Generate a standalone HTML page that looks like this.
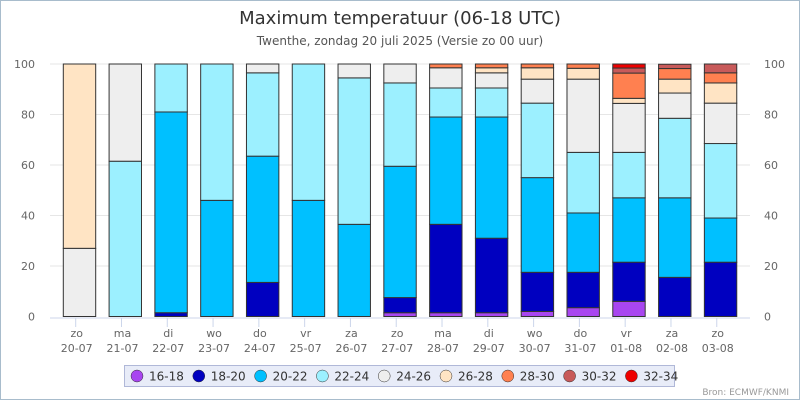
<!DOCTYPE html>
<html><head><meta charset="utf-8"><style>
body{margin:0;background:#fff;font-family:"DejaVu Sans","Liberation Sans",sans-serif}
#wrap{position:relative;width:800px;height:400px;overflow:hidden}
</style></head><body>
<div id="wrap">
<svg id="svg" width="800" height="400" xmlns="http://www.w3.org/2000/svg" font-family="DejaVu Sans, Liberation Sans, sans-serif">
<rect x="0.5" y="0.5" width="799" height="399" fill="#fff" stroke="#a8bccc"/>
<text x="400" y="24" text-anchor="middle" font-size="18" fill="#333">Maximum temperatuur (06-18 UTC)</text>
<text x="400" y="45" text-anchor="middle" font-size="12" fill="#555">Twenthe, zondag 20 juli 2025 (Versie zo 00 uur)</text>
<g id="grid"></g><g id="bars"></g><g id="axes"></g><g id="legend"></g>
<text x="789" y="395" text-anchor="end" font-size="9" fill="#999">Bron: ECMWF/KNMI</text>
</svg></div>
<script>
const days=["zo","ma","di","wo","do","vr","za","zo","ma","di","wo","do","vr","za","zo"];
const dates=["20-07","21-07","22-07","23-07","24-07","25-07","26-07","27-07","28-07","29-07","30-07","31-07","01-08","02-08","03-08"];
const seriesNames=["16-18","18-20","20-22","22-24","24-26","26-28","28-30","30-32","32-34"];
const seriesColors=["#a846f0","#0000c0","#00c0ff","#9cf0ff","#eeeeee","#ffe4c4","#ff8050","#c85a5a","#ee0000"];
const s1618=[0,0,0,0,0,0,0,1.5,1.5,1.5,2,3.5,6,0,0];
const s1820=[0,0,1.5,0,13.5,0,0,6,35,29.5,15.5,14,15.5,15.5,21.5];
const s2022=[0,0,79.5,46,50,46,36.5,52,42.5,48,37.5,23.5,25.5,31.5,17.5];
const s2224=[0,61.5,19,54,33,54,58,33,11.5,11.5,29.5,24,18,31.5,29.5];
const s2426=[27,38.5,0,0,3.5,0,5.5,7.5,8,6,9.5,29,19.4,10,16];
const s2628=[73,0,0,0,0,0,0,0,0,2,4.5,4.3,2,5.5,8];
const s2830=[0,0,0,0,0,0,0,0,1.5,1.5,1.5,1.7,10,4.2,4];
const s3032=[0,0,0,0,0,0,0,0,0,0,0,0,2,1.7,3.5];
const s3234=[0,0,0,0,0,0,0,0,0,0,0,0,1.6,0,0];
const series=[s1618,s1820,s2022,s2224,s2426,s2628,s2830,s3032,s3234];
const yTicks=[0,20,40,60,80,100];
const NS="http://www.w3.org/2000/svg";
const T0=75.7,STEP=45.79,BW=32.4,BOFF=3.8,Y0=316.5,Y1=64;
const xc=i=>T0+STEP*i;
const y=v=>Y0+(Y1-Y0)*v/100;
function mk(t,a,p){const e=document.createElementNS(NS,t);for(const k in a)e.setAttribute(k,a[k]);p.appendChild(e);return e;}
const grid=document.getElementById('grid'),bars=document.getElementById('bars'),axes=document.getElementById('axes'),leg=document.getElementById('legend');
yTicks.forEach(v=>{
 const l=mk('line',{x1:50,x2:750,y1:v===0?318:y(v),y2:v===0?318:y(v),stroke:v===0?'#ccd6eb':'#e6e6e6'},grid);
 
 
 const t=mk('text',{x:35,y:y(v)+4,'text-anchor':'end','font-size':11,fill:'#666'},axes);t.textContent=v;
 
 
 const t2=mk('text',{x:764,y:y(v)+4,'text-anchor':'start','font-size':11,fill:'#666'},axes);t2.textContent=v;
 
 
});
days.forEach((d,i)=>{
 let cum=0;
 series.forEach((s,k)=>{
  const v=s[i];if(v<=0)return;
  const r=mk('rect',{x:xc(i)+BOFF-BW/2,y:y(cum+v),width:BW,height:y(cum)-y(cum+v),fill:seriesColors[k],stroke:'#333','stroke-width':1},bars);
  
  
  cum+=v;
 });
 const tk=mk('line',{x1:xc(i),x2:xc(i),y1:318,y2:327,stroke:'#ccd6eb'},axes);
 
 
 const t=mk('text',{x:xc(i)+1,y:337,'text-anchor':'middle','font-size':11,fill:'#666'},axes);t.textContent=d;
 
 
 const t2=mk('text',{x:xc(i)+1,y:352,'text-anchor':'middle','font-size':11,fill:'#666'},axes);t2.textContent=dates[i];
 
 
});
const lb=mk('rect',{x:124.5,y:365.5,width:550,height:21,fill:'#e8ecf8',stroke:'#b0b8d8'},leg);


seriesNames.forEach((n,k)=>{
 const g=mk('g',{},leg);
 
 
 const cx=137+k*61.8;
 mk('circle',{cx:cx,cy:376,r:6,fill:seriesColors[k],stroke:'#333','stroke-width':0.5},g);
 const t=mk('text',{x:cx+12,y:380.5,'font-size':12,fill:'#333'},g);t.textContent=n;
});
</script>
</body></html>
